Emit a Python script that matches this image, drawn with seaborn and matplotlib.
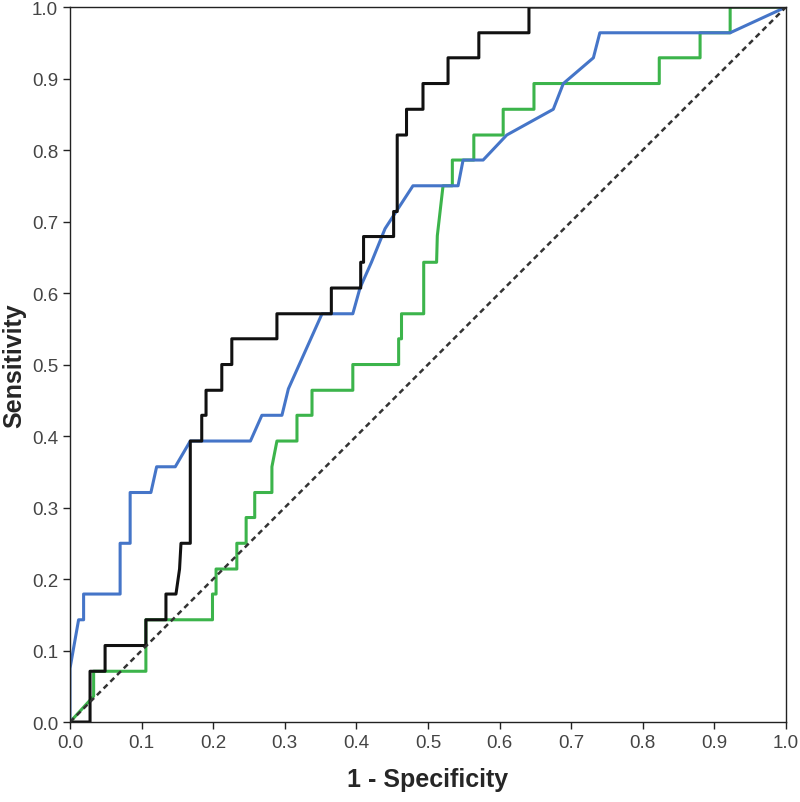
import numpy as np
import pandas as pd
import seaborn as sns
import matplotlib.pyplot as plt

# ROC curve vertices (1 - specificity, sensitivity)
black_fpr = [0, 0.028, 0.028, 0.049, 0.049, 0.106, 0.106, 0.134, 0.134, 0.148, 0.153, 0.155,
             0.168, 0.168, 0.184, 0.184, 0.19, 0.19, 0.212, 0.212, 0.226, 0.226, 0.289, 0.289,
             0.365, 0.365, 0.406, 0.406, 0.41, 0.41, 0.452, 0.452, 0.457, 0.457, 0.47, 0.47,
             0.493, 0.493, 0.528, 0.528, 0.571, 0.571, 0.641, 0.641, 1.0]
black_tpr = [0, 0, 0.071, 0.071, 0.107, 0.107, 0.143, 0.143, 0.179, 0.179, 0.214, 0.25,
             0.25, 0.393, 0.393, 0.429, 0.429, 0.464, 0.464, 0.5, 0.5, 0.536, 0.536, 0.571,
             0.571, 0.607, 0.607, 0.643, 0.643, 0.679, 0.679, 0.714, 0.714, 0.821, 0.821, 0.857,
             0.857, 0.893, 0.893, 0.929, 0.929, 0.964, 0.964, 1.0, 1.0]

blue_fpr = [0, 0, 0.012, 0.019, 0.019, 0.07, 0.07, 0.084, 0.084, 0.113, 0.121, 0.147, 0.168,
            0.252, 0.268, 0.296, 0.305, 0.352, 0.395, 0.405, 0.421, 0.44, 0.479, 0.542, 0.549,
            0.577, 0.61, 0.675, 0.689, 0.731, 0.74, 0.922, 1.0]
blue_tpr = [0, 0.075, 0.143, 0.143, 0.179, 0.179, 0.25, 0.25, 0.321, 0.321, 0.357, 0.357, 0.393,
            0.393, 0.429, 0.429, 0.466, 0.571, 0.571, 0.607, 0.643, 0.69, 0.75, 0.75, 0.786,
            0.786, 0.821, 0.857, 0.893, 0.929, 0.964, 0.964, 1.0]

green_fpr = [0, 0.033, 0.033, 0.106, 0.106, 0.199, 0.199, 0.204, 0.204, 0.233, 0.233, 0.246,
             0.246, 0.258, 0.258, 0.282, 0.282, 0.289, 0.317, 0.317, 0.338, 0.338, 0.395, 0.395,
             0.459, 0.459, 0.463, 0.463, 0.494, 0.494, 0.512, 0.513, 0.521, 0.534, 0.534, 0.564,
             0.564, 0.605, 0.605, 0.648, 0.648, 0.823, 0.823, 0.88, 0.88, 0.922, 0.922, 1.0]
green_tpr = [0, 0.036, 0.071, 0.071, 0.143, 0.143, 0.179, 0.179, 0.214, 0.214, 0.25, 0.25,
             0.286, 0.286, 0.321, 0.321, 0.357, 0.393, 0.393, 0.429, 0.429, 0.464, 0.464, 0.5,
             0.5, 0.536, 0.536, 0.571, 0.571, 0.643, 0.643, 0.68, 0.75, 0.75, 0.786, 0.786,
             0.821, 0.821, 0.857, 0.857, 0.893, 0.893, 0.929, 0.929, 0.964, 0.964, 1.0, 1.0]

ref_line = [0, 1]
ticks = np.round(np.arange(0, 1.01, 0.1), 1)

sns.set_style("ticks")
plt.rcParams['font.family'] = ['Liberation Sans', 'DejaVu Sans']

fig = plt.figure(figsize=(8, 8.03), dpi=100)
ax = fig.add_axes([0.0875, 0.0996, 0.895, 0.8904])

curves = [(green_fpr, green_tpr, "#3cb44b"),
          (blue_fpr, blue_tpr, "#4575c8"),
          (black_fpr, black_tpr, "#111111")]
for fpr, tpr, col in curves:
    df = pd.DataFrame({"fpr": fpr, "tpr": tpr})
    sns.lineplot(data=df, x="fpr", y="tpr", sort=False, estimator=None,
                 color=col, lw=2.2, ax=ax)

sns.lineplot(x=ref_line, y=ref_line, color="#333333", lw=1.8, ax=ax,
             linestyle=(0, (2.2, 1.6)))

ax.set_xlim(0, 1)
ax.set_ylim(0, 1)
ax.set_xticks(ticks)
ax.set_yticks(ticks)
ax.set_xticklabels([f"{t:.1f}" for t in ticks])
ax.set_yticklabels([f"{t:.1f}" for t in ticks])
ax.tick_params(direction="out", length=5, width=1, labelsize=13.5, colors="#222222",
               labelcolor="#444444")
for sp in ax.spines.values():
    sp.set_visible(True)
    sp.set_color("#222222")
    sp.set_linewidth(1)

ax.set_xlabel("1 - Specificity", fontsize=18, fontweight="bold", labelpad=12)
ax.set_ylabel("Sensitivity", fontsize=18, fontweight="bold", labelpad=4)

fig.savefig("out.png", dpi=100)
